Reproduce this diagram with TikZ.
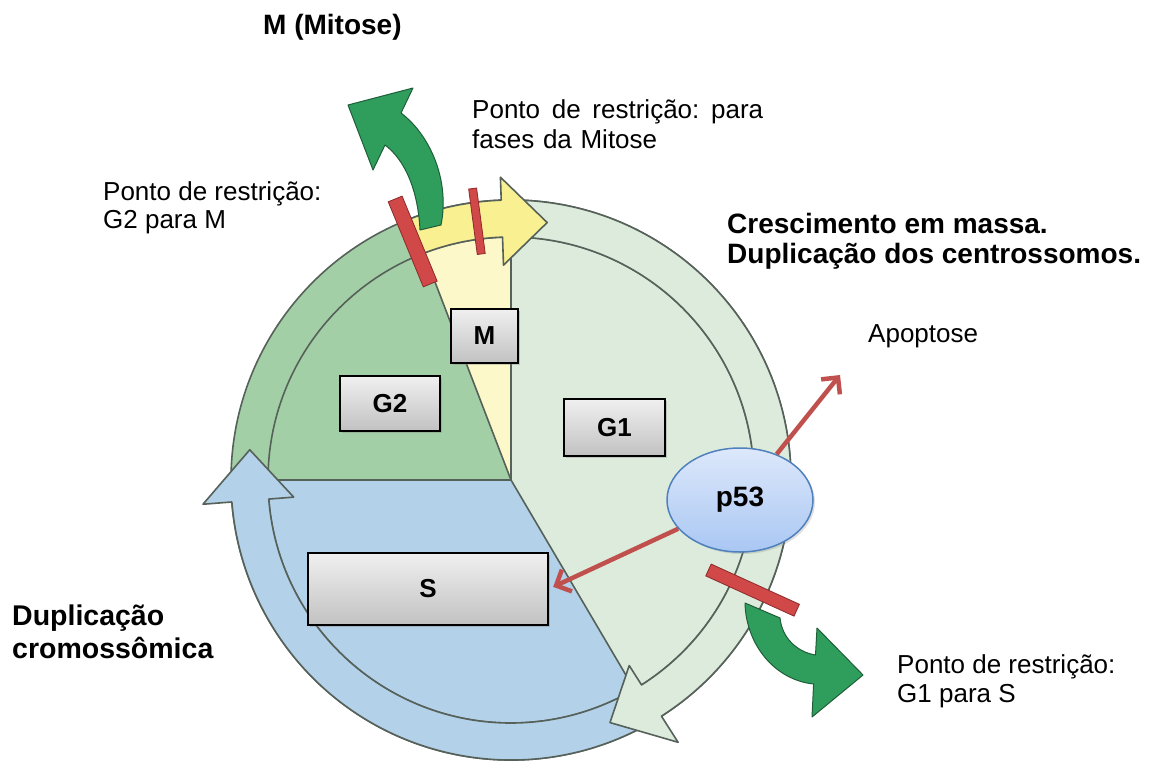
\documentclass[tikz,border=0pt]{standalone}
\usepackage{fontspec}
\setmainfont{Liberation Sans}
\usetikzlibrary{arrows.meta,shadows,calc,shapes.geometric}
\definecolor{gone}{HTML}{DCEBDC}
\definecolor{gtwo}{HTML}{A3CFA6}
\definecolor{sblue}{HTML}{B3D1E9}
\definecolor{myel}{HTML}{FDF8C9}
\definecolor{yarr}{HTML}{F9F091}
\definecolor{ringc}{HTML}{56615A}
\definecolor{garr}{HTML}{2F9E5C}
\definecolor{garrd}{HTML}{1E5E38}
\definecolor{rbar}{HTML}{D04848}
\definecolor{rbard}{HTML}{8E2A2A}
\definecolor{rarr}{HTML}{C0504D}
\definecolor{pblue}{HTML}{4F81BD}
\definecolor{ptop}{HTML}{DDE8FB}
\definecolor{pbot}{HTML}{A9C7F3}
\newcommand\tstr{\rule{0pt}{23pt}}
\begin{document}
\begin{tikzpicture}[x=1pt,y=1pt,
  ringline/.style={draw=ringc,line width=1.6pt},
  ringarrow/.style={draw=ringc,line width=1.6pt,line join=round},
  garrow/.style={fill=garr,draw=garrd,line width=1pt,line join=round},
  redbar/.style={rectangle,fill=rbar,draw=rbard,line width=0.8pt,inner sep=0pt},
  phasebox/.style={rectangle,draw=black,line width=1.3pt,top color=gray!12,bottom color=gray!48,
    drop shadow={shadow xshift=2pt,shadow yshift=-2pt,opacity=0.35},inner sep=0pt,
    font=\fontsize{26}{28}\selectfont\bfseries},
  redarrow/.style={draw=rarr,line width=4.5pt,-{Straight Barb[length=12pt,width=24pt]}},
  txt/.style={anchor=north west,inner sep=0pt,align=left,font=\fontsize{26}{29}\selectfont},
  btxt/.style={anchor=north west,inner sep=0pt,align=left,font=\fontsize{28}{30}\selectfont\bfseries}]
\useasboundingbox (0,0) rectangle (1172,-763);
\fill[white] (0,0) rectangle (1172,-763);
\def\rin{243}
\def\rout{280}
\coordinate (C) at (511,-480);
% sectors
\fill[gone] (C) circle (\rout);
\fill[gtwo] (C) -- ($(C)+(111:\rout)$) arc[start angle=111,end angle=180,radius=\rout] -- cycle;
\fill[sblue] (C) -- ($(C)+(180:\rin)$) arc[start angle=180,end angle=300.5,radius=\rin] -- cycle;
\fill[myel] (C) -- ($(C)+(90:\rin)$) arc[start angle=90,end angle=111,radius=\rin] -- cycle;
\draw[ringline] (C) circle (\rout);
\draw[ringline] (C) circle (\rin);
\draw[ringline] (C) -- ($(C)+(90:\rin)$);
\draw[ringline] (C) -- ($(C)+(180:\rin)$);
\draw[ringline] (C) -- ($(C)+(111:\rin)$);
\draw[ringline] (C) -- ($(C)+(-59.5:\rin)$);
% blue arrow (S)
\filldraw[sblue,ringarrow] ($(C)+(-57:\rout)$) arc[start angle=-57,end angle=-175.5,radius=\rout]
  -- ($(C)+(-175.5:309)$) -- ($(C)+(-186.6:263)$) -- ($(C)+(-175.5:218)$)
  -- ($(C)+(-175.5:\rin)$) arc[start angle=-175.5,end angle=-57,radius=\rin] -- cycle;
% pale green arrow (G1)
\filldraw[gone,ringarrow] ($(C)+(88:\rout)$) arc[start angle=88,end angle=-57.5,radius=\rout]
  -- ($(C)+(-57.5:311)$) -- ($(C)+(-67.8:262)$) -- ($(C)+(-57.5:220)$)
  -- ($(C)+(-57.5:\rin)$) arc[start angle=-57.5,end angle=88,radius=\rin] -- cycle;
% yellow arrow (M)
\filldraw[yarr,ringarrow] ($(C)+(113:\rout)$) arc[start angle=113,end angle=92,radius=\rout]
  -- ($(C)+(92:303)$) -- ($(C)+(82:260)$) -- ($(C)+(92:215)$)
  -- ($(C)+(92:\rin)$) arc[start angle=92,end angle=113,radius=\rin] -- cycle;
% green curved arrows
\filldraw[garrow] (420,-230) .. controls (418,-190) and (405,-160) .. (385,-145) -- (373,-170) -- (348,-105)
  -- (413,-88) -- (401,-113) .. controls (430,-135) and (450,-180) .. (441,-225) -- cycle;
\filldraw[garrow] (745,-603) .. controls (746,-645) and (775,-680) .. (813.6,-684) -- (812,-717) -- (863,-675)
  -- (817,-628) -- (815.5,-655) .. controls (797,-652) and (782,-638) .. (780,-618) -- cycle;
% red bars
\node[redbar,minimum width=92pt,minimum height=15pt,rotate=112.4] (b1) at ($(C)+(112.4:258)$) {};
\node[redbar,minimum width=66pt,minimum height=8pt,rotate=97.5] (b2) at ($(C)+(97.5:261)$) {};
\node[redbar,minimum width=97pt,minimum height=13pt,rotate=-24.5] (b3) at ($(C)+(-24.5:265.5)$) {};
% phase boxes
\node[phasebox,minimum width=67pt,minimum height=54pt] (M) at (484.5,-336) {M};
\node[phasebox,minimum width=100pt,minimum height=55pt] (G2) at (390,-403.5) {G2};
\node[phasebox,minimum width=101pt,minimum height=57pt] (G1) at (614.5,-427.5) {G1};
\node[phasebox,minimum width=240pt,minimum height=72pt] (S) at (428,-589) {S};
\node[ellipse,draw=pblue,line width=1.5pt,top color=ptop,bottom color=pbot,minimum width=146pt,minimum height=104pt,
  drop shadow={shadow xshift=2pt,shadow yshift=-2pt,opacity=0.25},font=\fontsize{28}{30}\selectfont\bfseries] (p53) at (740,-500) {p53};
\coordinate (apo) at (840,-375);
\draw[redarrow] (p53) -- (apo);
\draw[redarrow,shorten >=5pt] (p53) -- (S.east);
% texts
\node[btxt] (tmit) at (263,-11) {\tstr M (Mitose)};
\node[txt,text width=291pt,font=\fontsize{26}{30}\selectfont] (tpm) at (472,-95) {\tstr Ponto\hfill de\hfill restrição:\hfill para\\fases da Mitose};
\node[txt,font=\fontsize{26}{28}\selectfont] (tg2) at (103,-177) {\tstr Ponto de restrição:\\G2 para M};
\node[btxt] (tcres) at (727,-210) {\tstr Crescimento em massa.\\Duplicação dos centrossomos.};
\node[txt] (tapo) at (868,-319) {\tstr Apoptose};
\node[txt] (tg1) at (897,-650) {\tstr Ponto de restrição:\\G1 para S};
\node[btxt,font=\fontsize{28.5}{33}\selectfont\bfseries] (tdup) at (12,-602) {\tstr Duplicação\\cromossômica};
\end{tikzpicture}
\end{document}
